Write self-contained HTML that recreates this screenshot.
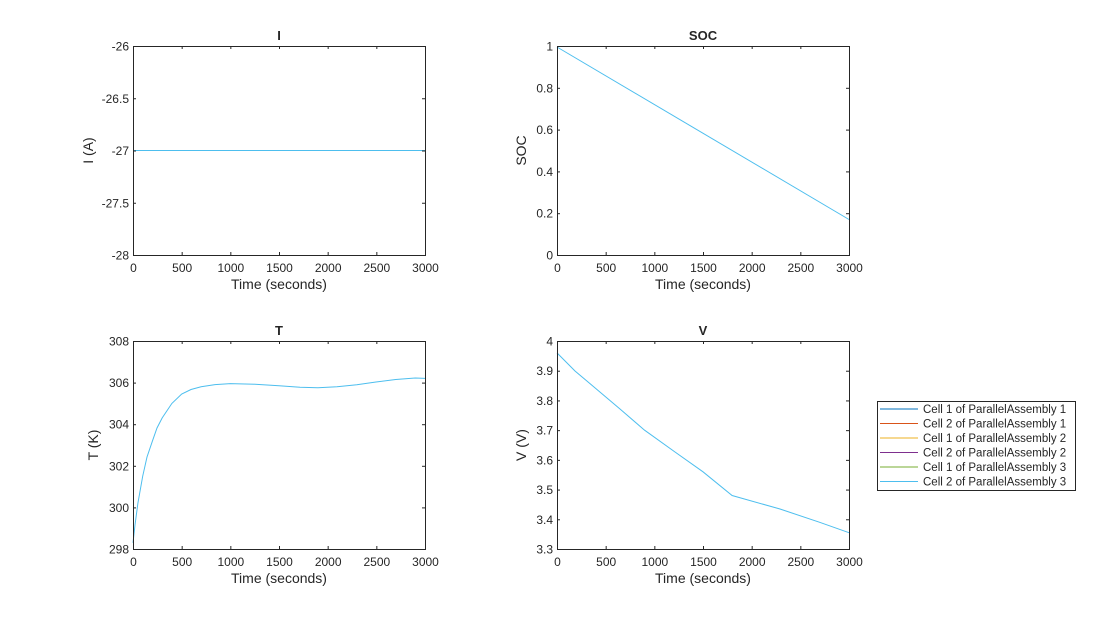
<!DOCTYPE html>
<html><head><style>body{margin:0;background:#fff}svg{display:block}text{font-family:"Liberation Sans",sans-serif;fill:#262626}</style></head>
<body>
<svg id="s" width="1098" height="618" xmlns="http://www.w3.org/2000/svg">
<rect width="1098" height="618" fill="#fff"/>
<g fill="none" stroke="#4DBEEE" stroke-width="1">
<line x1="133" y1="150.5" x2="425" y2="150.5"/>
<polyline points="557,47 849,219.5"/>
<polyline points="133,542.8 135,525 137.9,503.2 142.7,476.2 147,457 152.5,440.8 157,428 162.2,417.9 171.9,403.4 181.7,394 191,389.5 201.1,386.8 215,384.6 230.3,383.6 255,384.2 279,385.7 300,387.2 317.9,387.8 337,386.8 356.8,384.7 376,382 395.7,379.5 415.2,378 425,378.4"/>
<polyline points="557,352.9 575,371 595.9,388.6 620,409 644.6,430.2 675,452 703,471.8 732.1,495.5 780,509 819.7,522.3 849,532.7"/>
</g>
<g id="ax"></g>
<g stroke-width="1">
<rect x="877.5" y="401.5" width="198" height="89" fill="#fff" stroke="#262626"/>
<line x1="880" x2="918" y1="409" y2="409" stroke="#0072BD"/>
<line x1="880" x2="918" y1="423.5" y2="423.5" stroke="#D95319"/>
<line x1="880" x2="918" y1="438" y2="438" stroke="#EDB120"/>
<line x1="880" x2="918" y1="452.5" y2="452.5" stroke="#7E2F8E"/>
<line x1="880" x2="918" y1="467" y2="467" stroke="#77AC30"/>
<line x1="880" x2="918" y1="481.5" y2="481.5" stroke="#4DBEEE"/>
</g>
<g font-size="11.5">
<text x="923" y="413">Cell 1 of ParallelAssembly 1</text>
<text x="923" y="427.5">Cell 2 of ParallelAssembly 1</text>
<text x="923" y="442">Cell 1 of ParallelAssembly 2</text>
<text x="923" y="456.5">Cell 2 of ParallelAssembly 2</text>
<text x="923" y="471">Cell 1 of ParallelAssembly 3</text>
<text x="923" y="485.5">Cell 2 of ParallelAssembly 3</text>
</g>
</svg>
<script>
const g=document.getElementById('ax');let h='';
function ax(x0,y0,w,hh,title,ylab,yt,lx){
 h+=`<rect x="${x0+.5}" y="${y0+.5}" width="${w}" height="${hh}" fill="none" stroke="#262626"/>`;
 for(let i=0;i<=6;i++){const x=x0+w*i/6+.5;h+=`<line x1="${x}" x2="${x}" y1="${y0+hh}" y2="${y0+hh-3}" stroke="#262626"/><line x1="${x}" x2="${x}" y1="${y0}" y2="${y0+3}" stroke="#262626"/><text x="${x}" y="${y0+hh+17}" font-size="12" text-anchor="middle">${i*500}</text>`;}
 const n=yt.length-1;
 yt.forEach((t,i)=>{const y=y0+hh-hh*i/n+.5;h+=`<line x1="${x0}" x2="${x0+3}" y1="${y}" y2="${y}" stroke="#262626"/><line x1="${x0+w}" x2="${x0+w-3}" y1="${y}" y2="${y}" stroke="#262626"/><text x="${x0-4}" y="${y+4}" font-size="12" text-anchor="end">${t}</text>`;});
 h+=`<text x="${x0+w/2}" y="${y0-6}" font-size="13" font-weight="bold" text-anchor="middle">${title}</text>`;
 h+=`<text x="${x0+w/2}" y="${y0+hh+34}" font-size="14" text-anchor="middle">Time (seconds)</text>`;
 h+=`<text transform="translate(${lx+5},${y0+hh/2}) rotate(-90)" font-size="14" text-anchor="middle">${ylab}</text>`;
}
ax(133,46,292,209,'I','I (A)',['-28','-27.5','-27','-26.5','-26'],88);
ax(557,46,292,209,'SOC','SOC',['0','0.2','0.4','0.6','0.8','1'],521);
ax(133,341,292,208,'T','T (K)',['298','300','302','304','306','308'],93);
ax(557,341,292,208,'V','V (V)',['3.3','3.4','3.5','3.6','3.7','3.8','3.9','4'],521);
g.innerHTML=h;
</script>
</body></html>
